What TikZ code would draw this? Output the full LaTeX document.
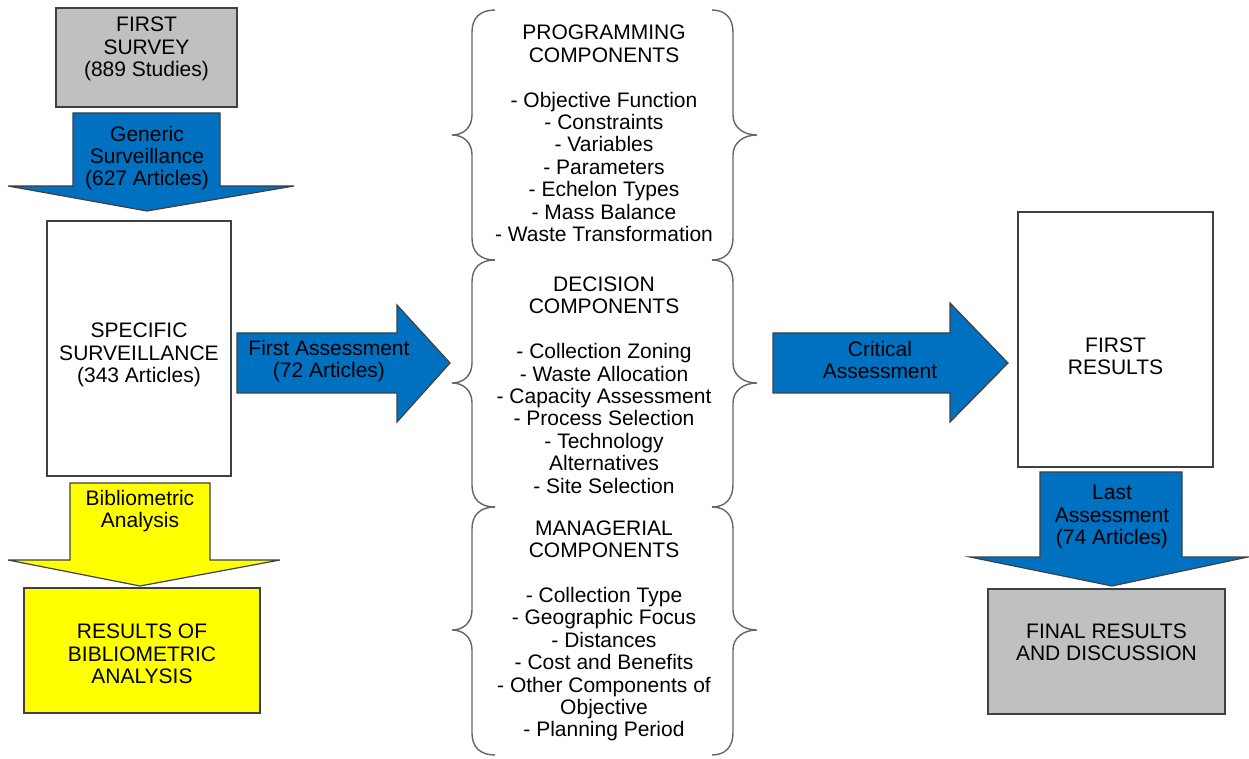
\documentclass[tikz,border=0pt]{standalone}
\usepackage{fontspec}
\setmainfont{Liberation Sans}
\definecolor{arrblue}{RGB}{0,112,192}
\definecolor{boxgray}{RGB}{192,192,192}
\definecolor{boxyellow}{RGB}{255,255,0}
\definecolor{outl}{RGB}{64,64,64}
\begin{document}
\begin{tikzpicture}[x=0.5pt,y=-0.5pt,
  box/.style={draw=outl,line width=0.7pt,inner sep=0pt},
  blockarrow/.style={draw=outl,line width=0.6pt,line join=miter},
  txt/.style={align=center,inner sep=0pt,font=\fontsize{10.5}{11.2}\selectfont},
  brace/.style={draw=black!60,line width=0.7pt}]
\useasboundingbox (0,0) rectangle (1249,759);
% boxes
\node[box,fill=boxgray,minimum width=90.5pt,minimum height=49.5pt] (survey) at (146.5,57.5) {};
\node[txt] (surveyt) at (146.5,49) {FIRST\\SURVEY\\(889 Studies)};
\node[box,fill=white,minimum width=92pt,minimum height=127.5pt] (specific) at (139,348.5) {};
\node[txt] (specifict) at (139,355) {SPECIFIC\\SURVEILLANCE\\(343 Articles)};
\node[box,fill=boxyellow,minimum width=118pt,minimum height=62.5pt] (bib) at (142,650.5) {};
\node[txt] (bibt) at (142,654) {RESULTS OF\\BIBLIOMETRIC\\ANALYSIS};
\node[box,fill=white,minimum width=97.5pt,minimum height=127.5pt] (firstres) at (1115.5,339.5) {};
\node[txt] (firstrest) at (1115.5,356) {FIRST\\RESULTS};
\node[box,fill=boxgray,minimum width=118.5pt,minimum height=62.5pt] (final) at (1106.5,651.5) {};
\node[txt] (finalt) at (1106.5,642) {FINAL RESULTS\\AND DISCUSSION};
% block arrows
\draw[blockarrow,fill=arrblue] (73,113) -- (220,113) -- (220,186) -- (294,186) -- (147,211) -- (8,186) -- (73,186) -- cycle;
\node[txt] (generic) at (147,158) {Generic\\Surveillance\\(627 Articles)};
\draw[blockarrow,fill=boxyellow] (70,483) -- (210,483) -- (210,560) -- (280,560) -- (140,586) -- (8,560) -- (70,560) -- cycle;
\node[txt] (biblio) at (140,511) {Bibliometric\\Analysis};
\draw[blockarrow,fill=arrblue] (237,333) -- (397,333) -- (397,305) -- (450,363) -- (397,422) -- (397,393) -- (237,393) -- cycle;
\node[txt] (firstass) at (329,361) {First Assessment\\(72 Articles)};
\draw[blockarrow,fill=arrblue] (773,333) -- (950,333) -- (950,303) -- (1008,363) -- (950,422) -- (950,393) -- (773,393) -- cycle;
\node[txt] (critical) at (880,360) {Critical\\Assessment};
\draw[blockarrow,fill=arrblue] (1040,472) -- (1182,472) -- (1182,557) -- (1248,557) -- (1112,586) -- (970,557) -- (1040,557) -- cycle;
\node[txt] (lastass) at (1112,517) {Last\\Assessment\\(74 Articles)};
% braces
\foreach \ya/\ym/\yb in {10/135/260, 260/383/507, 507/630/755}{
  \draw[brace] (495,\ya) .. controls (480,\ya) and (472,\ya+8) .. (472,\ya+22) -- (472,\ym-20) .. controls (472,\ym-8) and (464,\ym) .. (452,\ym) .. controls (464,\ym) and (472,\ym+8) .. (472,\ym+20) -- (472,\yb-22) .. controls (472,\yb-8) and (480,\yb) .. (495,\yb);
  \draw[brace] (712,\ya) .. controls (725,\ya) and (733,\ya+8) .. (733,\ya+22) -- (733,\ym-20) .. controls (733,\ym-8) and (743,\ym) .. (757,\ym) .. controls (743,\ym) and (733,\ym+8) .. (733,\ym+20) -- (733,\yb-22) .. controls (733,\yb-8) and (725,\yb) .. (712,\yb);
}
\node[txt] (prog) at (604,133.5) {PROGRAMMING\\COMPONENTS\\[11.2pt]- Objective Function\\- Constraints\\- Variables\\- Parameters\\- Echelon Types\\- Mass Balance\\- Waste Transformation};
\node[txt] (dec) at (604,385) {DECISION\\COMPONENTS\\[11.2pt]- Collection Zoning\\- Waste Allocation\\- Capacity Assessment\\- Process Selection\\- Technology\\Alternatives\\- Site Selection};
\node[txt] (man) at (604,631) {MANAGERIAL\\COMPONENTS\\[11.2pt]- Collection Type\\- Geographic Focus\\- Distances\\- Cost and Benefits\\- Other Components of\\Objective\\- Planning Period};
\end{tikzpicture}
\end{document}
